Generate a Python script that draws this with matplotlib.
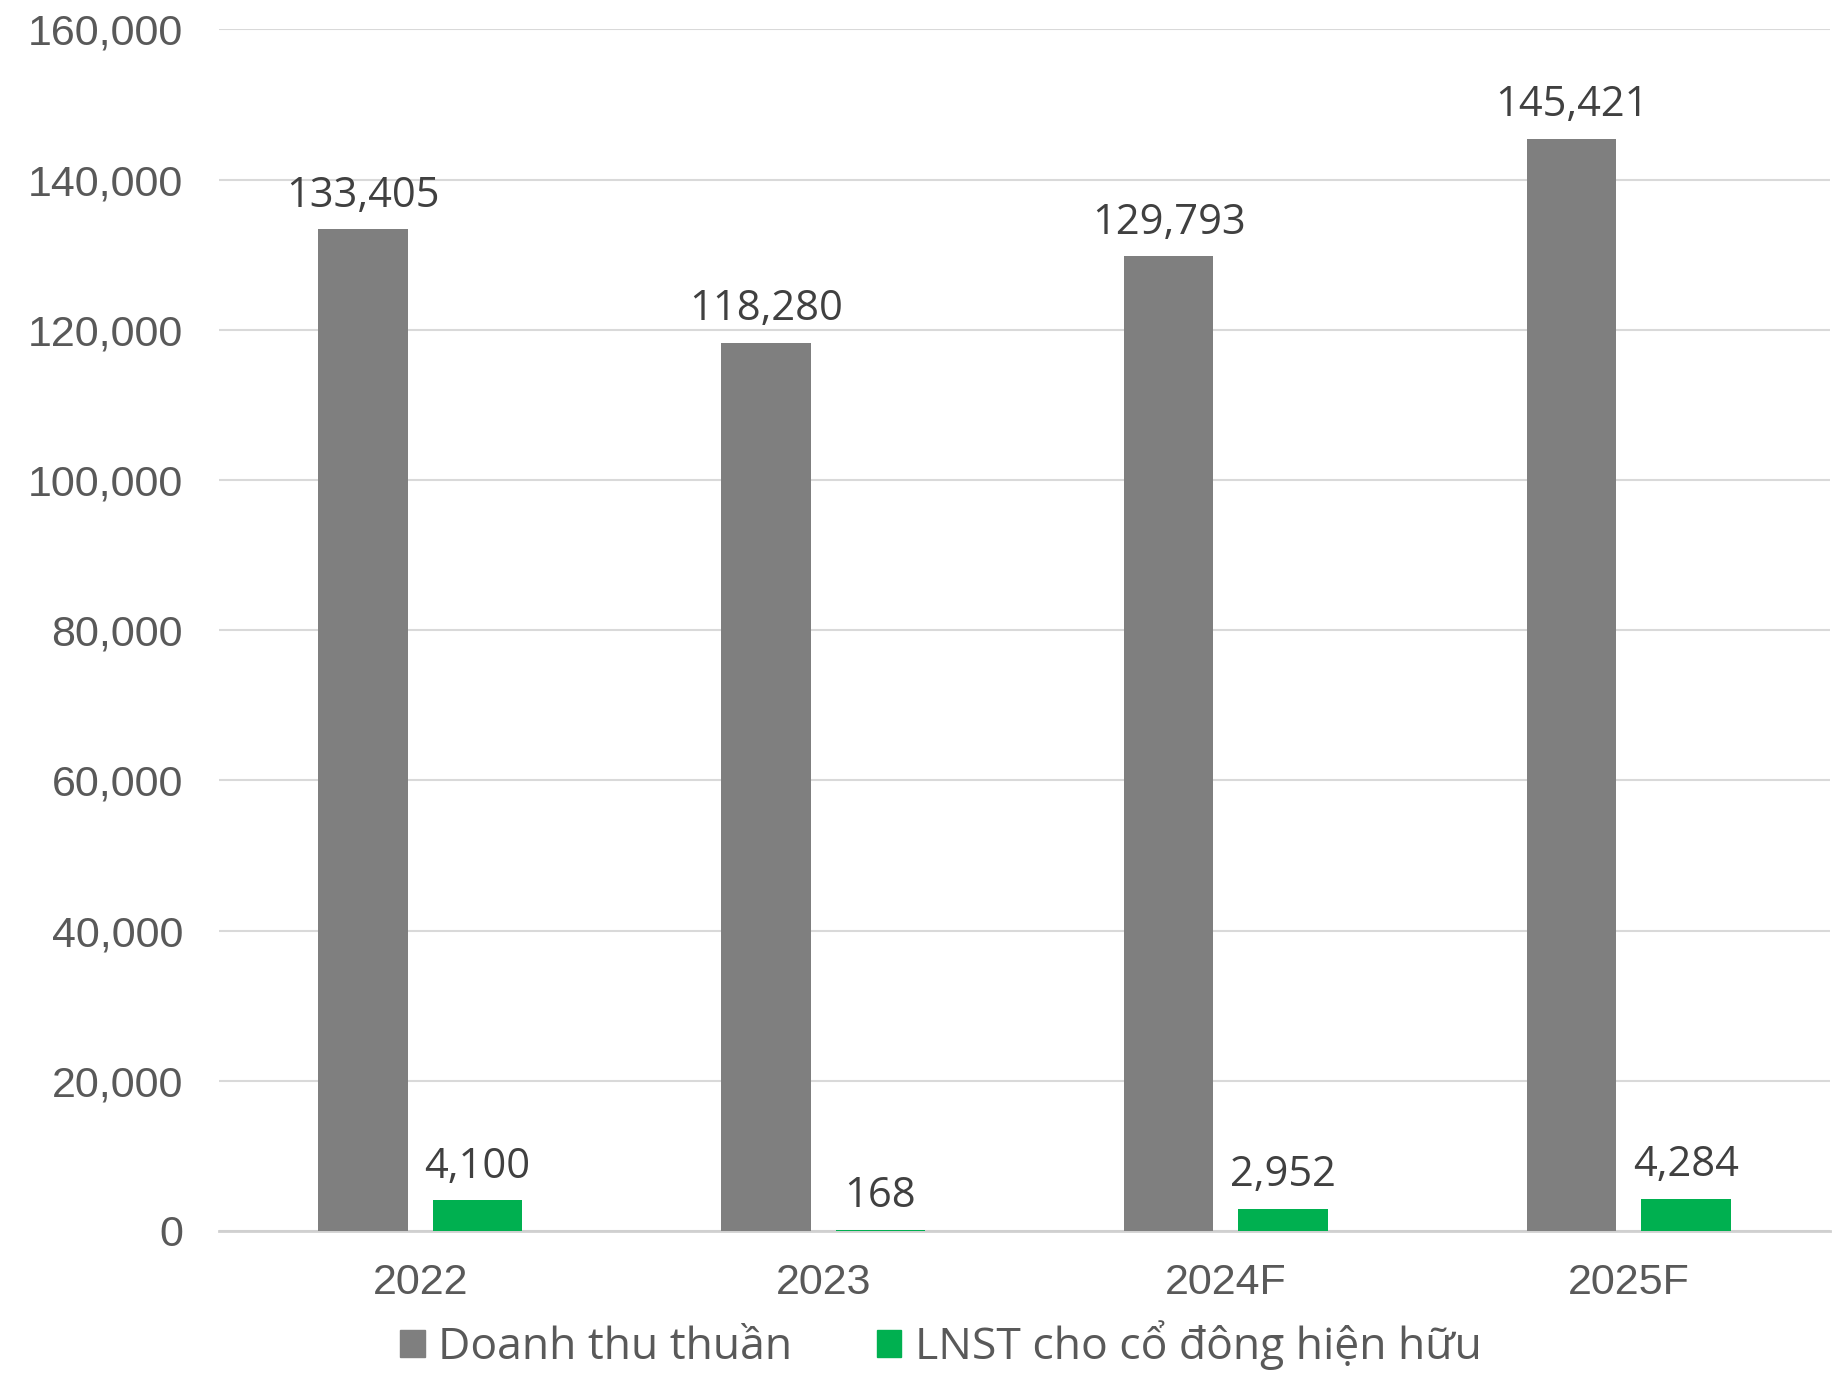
import matplotlib.pyplot as plt
import numpy as np
from matplotlib.patches import Patch

years = ["2022", "2023", "2024F", "2025F"]
revenue = [133405, 118280, 129793, 145421]
profit = [4100, 168, 2952, 4284]
series_names = ["Doanh thu thuần", "LNST cho cổ đông hiện hữu"]
colors = ["#7f7f7f", "#00b050"]

fig = plt.figure(figsize=(18.45, 13.78), dpi=100)
ax = fig.add_axes([0.1187, 0.1067, 0.8732, 0.872])

x = np.arange(len(years))
w = 0.222
off = 0.142
b1 = ax.bar(x - off, revenue, w, color=colors[0], zorder=3)
b2 = ax.bar(x + off, profit, w, color=colors[1], zorder=3)

for bars, vals in [(b1, revenue), (b2, profit)]:
    for r, v in zip(bars, vals):
        ax.annotate(f"{v:,}", (r.get_x() + r.get_width() / 2, r.get_height()),
                    xytext=(0, 9), textcoords="offset points", ha="center", va="bottom",
                    fontsize=30, color="#404040", family="Open Sans")

ax.set_xlim(-0.5, 3.5)
ax.set_ylim(0, 160000)
ax.set_yticks(range(0, 160001, 20000))
ax.set_yticklabels([f"{t:,}" for t in range(0, 160001, 20000)])
ax.set_xticks(x)
ax.set_xticklabels(years)
ax.grid(axis="y", color="#d9d9d9", lw=1.5, zorder=0)
for s in ["top", "right", "left"]:
    ax.spines[s].set_visible(False)
ax.spines["bottom"].set_color("#d0d0d0")
ax.spines["bottom"].set_linewidth(2)
ax.tick_params(axis="both", length=0, labelsize=31, labelcolor="#595959")
ax.tick_params(axis="y", pad=26)
ax.tick_params(axis="x", pad=23)
for lab in ax.get_xticklabels() + ax.get_yticklabels():
    lab.set_family("Liberation Sans")

handles = [Patch(color=c) for c in colors]
fig.legend(handles, series_names, loc="center", bbox_to_anchor=(0.51, 0.024), ncol=2,
           frameon=False, handlelength=0.55, handleheight=0.55, handletextpad=0.3,
           columnspacing=1.9, prop={"family": "Open Sans", "size": 32},
           labelcolor="#595959", borderpad=0.1)

fig.savefig("out.png")
